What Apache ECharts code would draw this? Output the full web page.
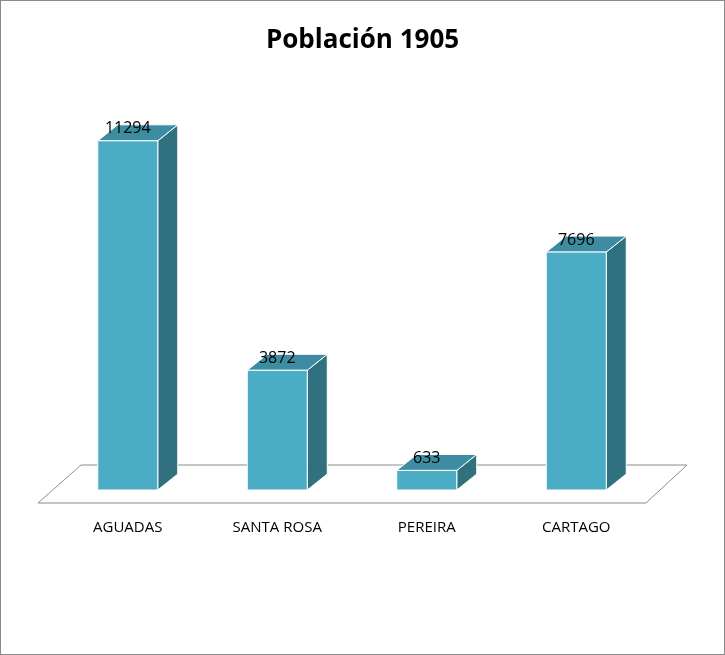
<!DOCTYPE html>
<html>
<head>
<meta charset="utf-8">
<script src="https://cdn.jsdelivr.net/npm/echarts@6/dist/echarts.min.js"></script>
<style>
html,body{margin:0;padding:0;background:#fff;}
#main{width:723px;height:653px;border:1px solid #8a8a8a;}
</style>
</head>
<body>
<div id="main"></div>
<script>
// datos
var ciudades = ['AGUADAS', 'SANTA ROSA', 'PEREIRA', 'CARTAGO'];
var poblacion = [11294, 3872, 633, 7696];

var chart = echarts.init(document.getElementById('main'));

// barra 3D: cara frontal, lateral y superior
function barra3d(params, api) {
    var top = api.coord([api.value(0), api.value(1)]);
    var base = api.coord([api.value(0), 0]);
    var w = 60, dx = 20, dy = -16;
    var x0 = top[0] - w / 2, x1 = top[0] + w / 2;
    return {
        type: 'group',
        children: [
            { type: 'polygon', shape: { points: [[x1, top[1]], [x1 + dx, top[1] + dy], [x1 + dx, base[1] + dy], [x1, base[1]]] },
              style: { fill: '#31707f', stroke: '#ffffff', lineWidth: 1 } },
            { type: 'polygon', shape: { points: [[x0, top[1]], [x0 + dx, top[1] + dy], [x1 + dx, top[1] + dy], [x1, top[1]]] },
              style: { fill: '#3e8ca1', stroke: '#ffffff', lineWidth: 1 } },
            { type: 'rect', shape: { x: x0, y: top[1], width: w, height: base[1] - top[1] },
              style: { fill: '#4bacc6', stroke: '#ffffff', lineWidth: 1 } },
            { type: 'text', style: { text: String(api.value(1)), x: top[0], y: top[1] - 12,
              align: 'center', verticalAlign: 'middle', fill: '#000', font: '16px "Open Sans", sans-serif' } }
        ]
    };
}

var option = {
    animation: false,
    title: {
        text: 'Población 1905', left: 'center', top: 22,
        textStyle: { fontSize: 26, fontWeight: 'bold', color: '#000', fontFamily: '"Open Sans", sans-serif' }
    },
    grid: { left: 52, right: 73, top: 118, bottom: 164 },
    xAxis: {
        type: 'category', data: ciudades,
        axisLine: { show: false }, axisTick: { show: false },
        axisLabel: { margin: 30, fontSize: 15, color: '#000', fontFamily: '"Open Sans", sans-serif' }
    },
    yAxis: { type: 'value', min: 0, max: 12000, show: false, splitLine: { show: false } },
    graphic: [{
        type: 'polygon', z: -1,
        shape: { points: [[37, 502], [645, 502], [686, 464], [80, 464]] },
        style: { fill: '#fff', stroke: '#8c8c8c', lineWidth: 1 }
    }],
    series: [{
        type: 'custom',
        renderItem: barra3d,
        data: poblacion.map(function (v, i) { return [i, v]; })
    }]
};
chart.setOption(option);
</script>
</body>
</html>
